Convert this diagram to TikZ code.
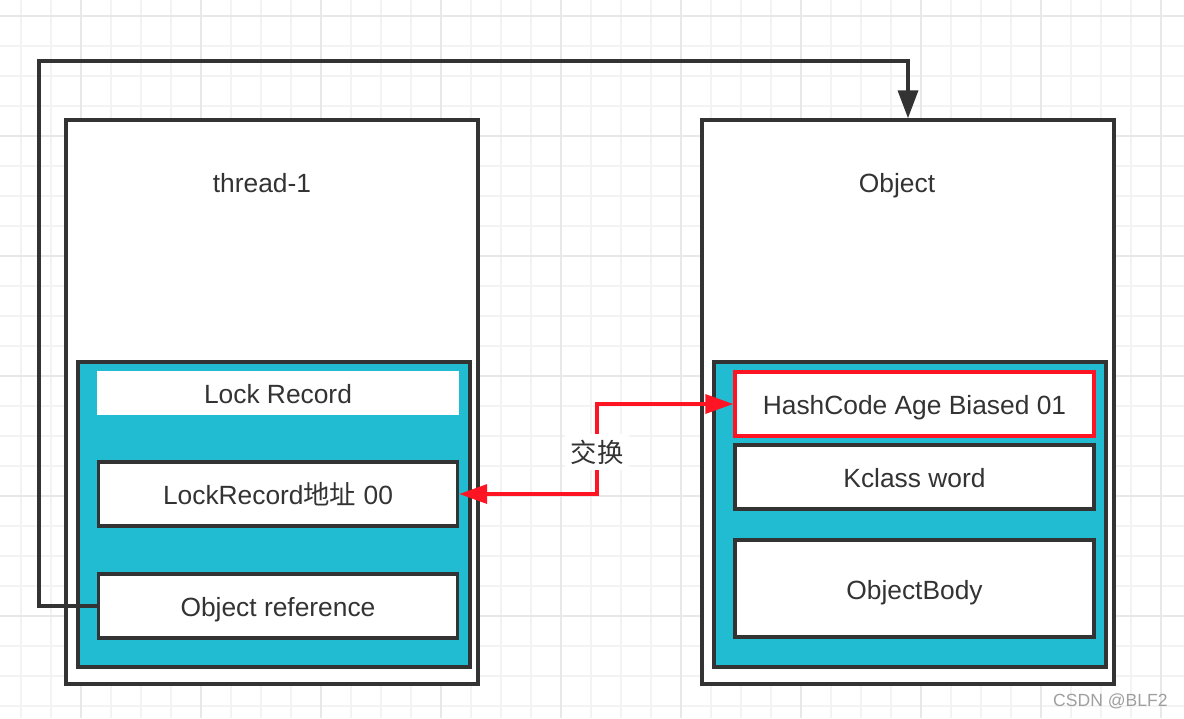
\documentclass[tikz,border=0pt]{standalone}
\usepackage{fontspec}
\setmainfont{Liberation Sans}
\newfontfamily\cjk{Noto Sans CJK SC}
\usetikzlibrary{arrows.meta, positioning}
\definecolor{ink}{HTML}{333333}
\definecolor{cellcyan}{HTML}{21BCD2}
\definecolor{swapred}{HTML}{FF1423}
\definecolor{gridminor}{HTML}{F3F3F3}
\definecolor{gridmajor}{HTML}{E8E8E8}

\begin{document}
\begin{tikzpicture}[x=0.02cm, y=-0.02cm,
    label text/.style={text=ink, text height=12.5pt, text depth=0.5pt, font=\fontsize{15}{18}\selectfont},
    frame/.style={draw=ink, line width=2pt, fill=white, minimum width=8.24cm, minimum height=11.28cm},
    layer/.style={draw=ink, line width=2pt, fill=cellcyan, minimum width=7.84cm, minimum height=6.1cm},
    slot/.style={label text, draw=ink, line width=2pt, fill=white, minimum width=7.18cm, minimum height=1.28cm},
    title/.style={label text},
    link/.style={draw=ink, line width=2pt, -{Triangle[length=0.56cm, width=0.4cm]}},
    swaplink/.style={draw=swapred, line width=2pt, {Triangle[length=0.56cm, width=0.38cm]}-{Triangle[length=0.56cm, width=0.38cm]}}]
\useasboundingbox (0,0) rectangle (1184,718);
\fill[white] (0,0) rectangle (1184,718);

% background grid
\foreach \x in {21,51,...,1181} {
    \draw[gridminor, line width=0.8pt] (\x,0) -- (\x,718);
}
\foreach \y in {16,46,...,706} {
    \draw[gridminor, line width=0.8pt] (0,\y) -- (1184,\y);
}
\foreach \x in {81,201,...,1161} {
    \draw[gridmajor, line width=0.8pt] (\x,0) -- (\x,718);
}
\foreach \y in {16,136,...,616} {
    \draw[gridmajor, line width=0.8pt] (0,\y) -- (1184,\y);
}

% thread side
\node[frame] (thread) at (272,402) {};
\node[title] (threadname) at (262,182) {thread-1};
\node[layer] (lockrecord) at (274,514.5) {};
\node[label text, fill=white, minimum width=7.24cm, minimum height=0.88cm] (lockhead) at (278,393) {Lock Record};
\node[slot] (lockaddr) at (278,494) {LockRecord{\cjk 地址} 00};
\node[slot] (objref) at (278,606) {Object reference};

% object side
\node[frame] (object) at (908,402) {};
\node[title] (objectname) at (897,182) {Object};
\node[layer] (header) at (910,514.5) {};
\node[slot, draw=swapred] (markword) at (914.5,404) {HashCode Age Biased 01};
\node[slot] (kclass) at (914.5,477) {Kclass word};
\node[slot, minimum height=1.94cm] (body) at (914.5,588.5) {ObjectBody};

% connectors
\coordinate (loopcorner) at (39,61);
\draw[link] (objref.west) -| (loopcorner) -| (object.north);

\coordinate (swapmid) at (597,452);
\draw[swaplink] (lockaddr.east) -- (lockaddr.east -| swapmid) -- (markword.west -| swapmid) -- (markword.west);
\node[fill=white, text=ink, inner sep=3pt, font=\cjk\fontsize{15}{18}\selectfont] (swaplabel) at (swapmid) {交换};

\node[text=gray!75, anchor=east, inner sep=0pt, font=\fontsize{10}{12}\selectfont] (mark) at (1168,701) {CSDN @BLF2};
\end{tikzpicture}
\end{document}
